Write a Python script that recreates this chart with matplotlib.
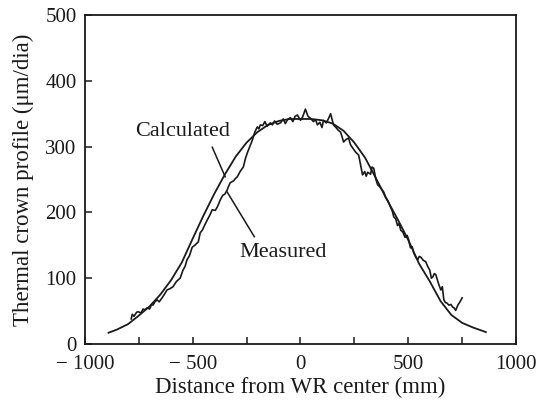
import matplotlib.pyplot as plt

# calculated thermal crown profile
calc_x = [-890, -850, -800, -750, -700, -650, -600, -550, -500, -450, -400, -350,
          -300, -250, -200, -150, -100, -50, 0, 50, 100, 150, 200, 250, 300, 350,
          400, 450, 500, 550, 600, 650, 700, 750, 800, 860]
calc_y = [17, 22, 30, 43, 57, 75, 97, 124, 160, 195, 228, 258,
          285, 306, 322, 333, 339, 342, 342, 342, 340, 335, 324, 306, 283, 252,
          220, 190, 158, 122, 95, 65, 44, 32, 25, 18]

# measured thermal crown profile
meas_x = [-785, -780, -772, -760, -753, -740, -730, -721, -710, -700, -690, -684,
          -675, -665, -655, -642, -630, -619, -605, -591, -575, -558, -545, -535,
          -526, -515, -502, -490, -474, -465, -455, -445, -433, -420, -409, -395,
          -386, -378, -372, -360, -350, -340, -333, -326, -310, -300, -293, -280,
          -265, -255, -247, -235, -223, -212, -200, -193, -186, -175, -165, -155,
          -140, -130, -120, -108, -93, -80, -70, -60, -47, -35, -25, -14,
          0, 10, 23, 35, 47, 60, 70, 79, 90, 100, 107, 120,
          132, 140, 153, 165, 175, 186, 193, 200, 212, 223, 232, 242,
          255, 270, 280, 288, 298, 305, 312, 325, 332, 340, 350, 358,
          370, 386, 395, 405, 419, 425, 433, 442, 450, 458, 465, 475,
          485, 495, 502, 510, 518, 526, 535, 544, 551, 558, 570, 581,
          590, 600, 607, 614, 621, 628, 640, 651, 658, 665, 672, 680,
          688, 698, 706, 712, 720, 730, 740, 750]
meas_y = [38, 45, 42, 48, 49, 47, 53, 52, 55, 53, 60, 59,
          64, 67, 64, 70, 76, 82, 84, 87, 95, 100, 112, 118,
          128, 134, 147, 150, 155, 169, 173, 180, 188, 196, 204, 203,
          208, 214, 219, 226, 228, 234, 240, 245, 248, 252, 254, 262,
          269, 282, 290, 300, 310, 322, 330, 327, 333, 332, 338, 331,
          336, 333, 339, 334, 336, 342, 335, 341, 344, 338, 346, 348,
          340, 345, 357, 346, 343, 338, 341, 333, 337, 329, 340, 336,
          344, 350, 333, 329, 325, 322, 315, 307, 311, 313, 303, 298,
          292, 287, 270, 257, 262, 255, 261, 258, 269, 267, 250, 242,
          238, 231, 223, 218, 207, 203, 193, 190, 180, 183, 173, 170,
          162, 165, 158, 146, 148, 138, 132, 128, 133, 132, 127, 125,
          118, 112, 100, 102, 107, 105, 92, 82, 87, 67, 63, 62,
          59, 60, 56, 55, 51, 59, 64, 70]

x_ticks = [-1000, -750, -500, -250, 0, 250, 500, 750, 1000]
x_tick_labels = ["\u2212 1000", "", "\u2212 500", "", "0", "", "500", "", "1000"]
y_ticks = [0, 100, 200, 300, 400, 500]

plt.rcParams["font.family"] = ["Liberation Serif", "DejaVu Serif"]

fig = plt.figure(figsize=(5.37, 4.07), dpi=100)
ax = fig.add_axes([0.158, 0.155, 0.803, 0.808])

ink = "#1a1a1a"
ax.plot(calc_x, calc_y, color=ink, lw=1.3)
ax.plot(meas_x, meas_y, color=ink, lw=1.2)

# leader lines
ax.plot([-409, -349], [299, 254], color=ink, lw=1.1)
ax.plot([-340, -214], [231, 163], color=ink, lw=1.1)
ax.text(-549, 323, "Calculated", fontsize=16, ha="center", va="center", color=ink)
ax.text(-79, 139, "Measured", fontsize=16, ha="center", va="center", color=ink)

ax.set_xlim(-1000, 1000)
ax.set_ylim(0, 500)
ax.set_xticks(x_ticks)
ax.set_xticklabels(x_tick_labels)
ax.set_yticks(y_ticks)
ax.tick_params(direction="in", length=5, width=1.1, labelsize=15, colors=ink,
               top=False, right=False)
ax.tick_params(axis="x", pad=8)
ax.tick_params(axis="y", pad=6)
for s in ax.spines.values():
    s.set_linewidth(1.3)
    s.set_color(ink)

ax.set_xlabel("Distance from WR center (mm)", fontsize=16.5, color=ink, labelpad=2)
ax.set_ylabel("Thermal crown profile (\u03bcm/dia)", fontsize=16.5, color=ink, labelpad=8)

fig.savefig("out.png", dpi=100)
